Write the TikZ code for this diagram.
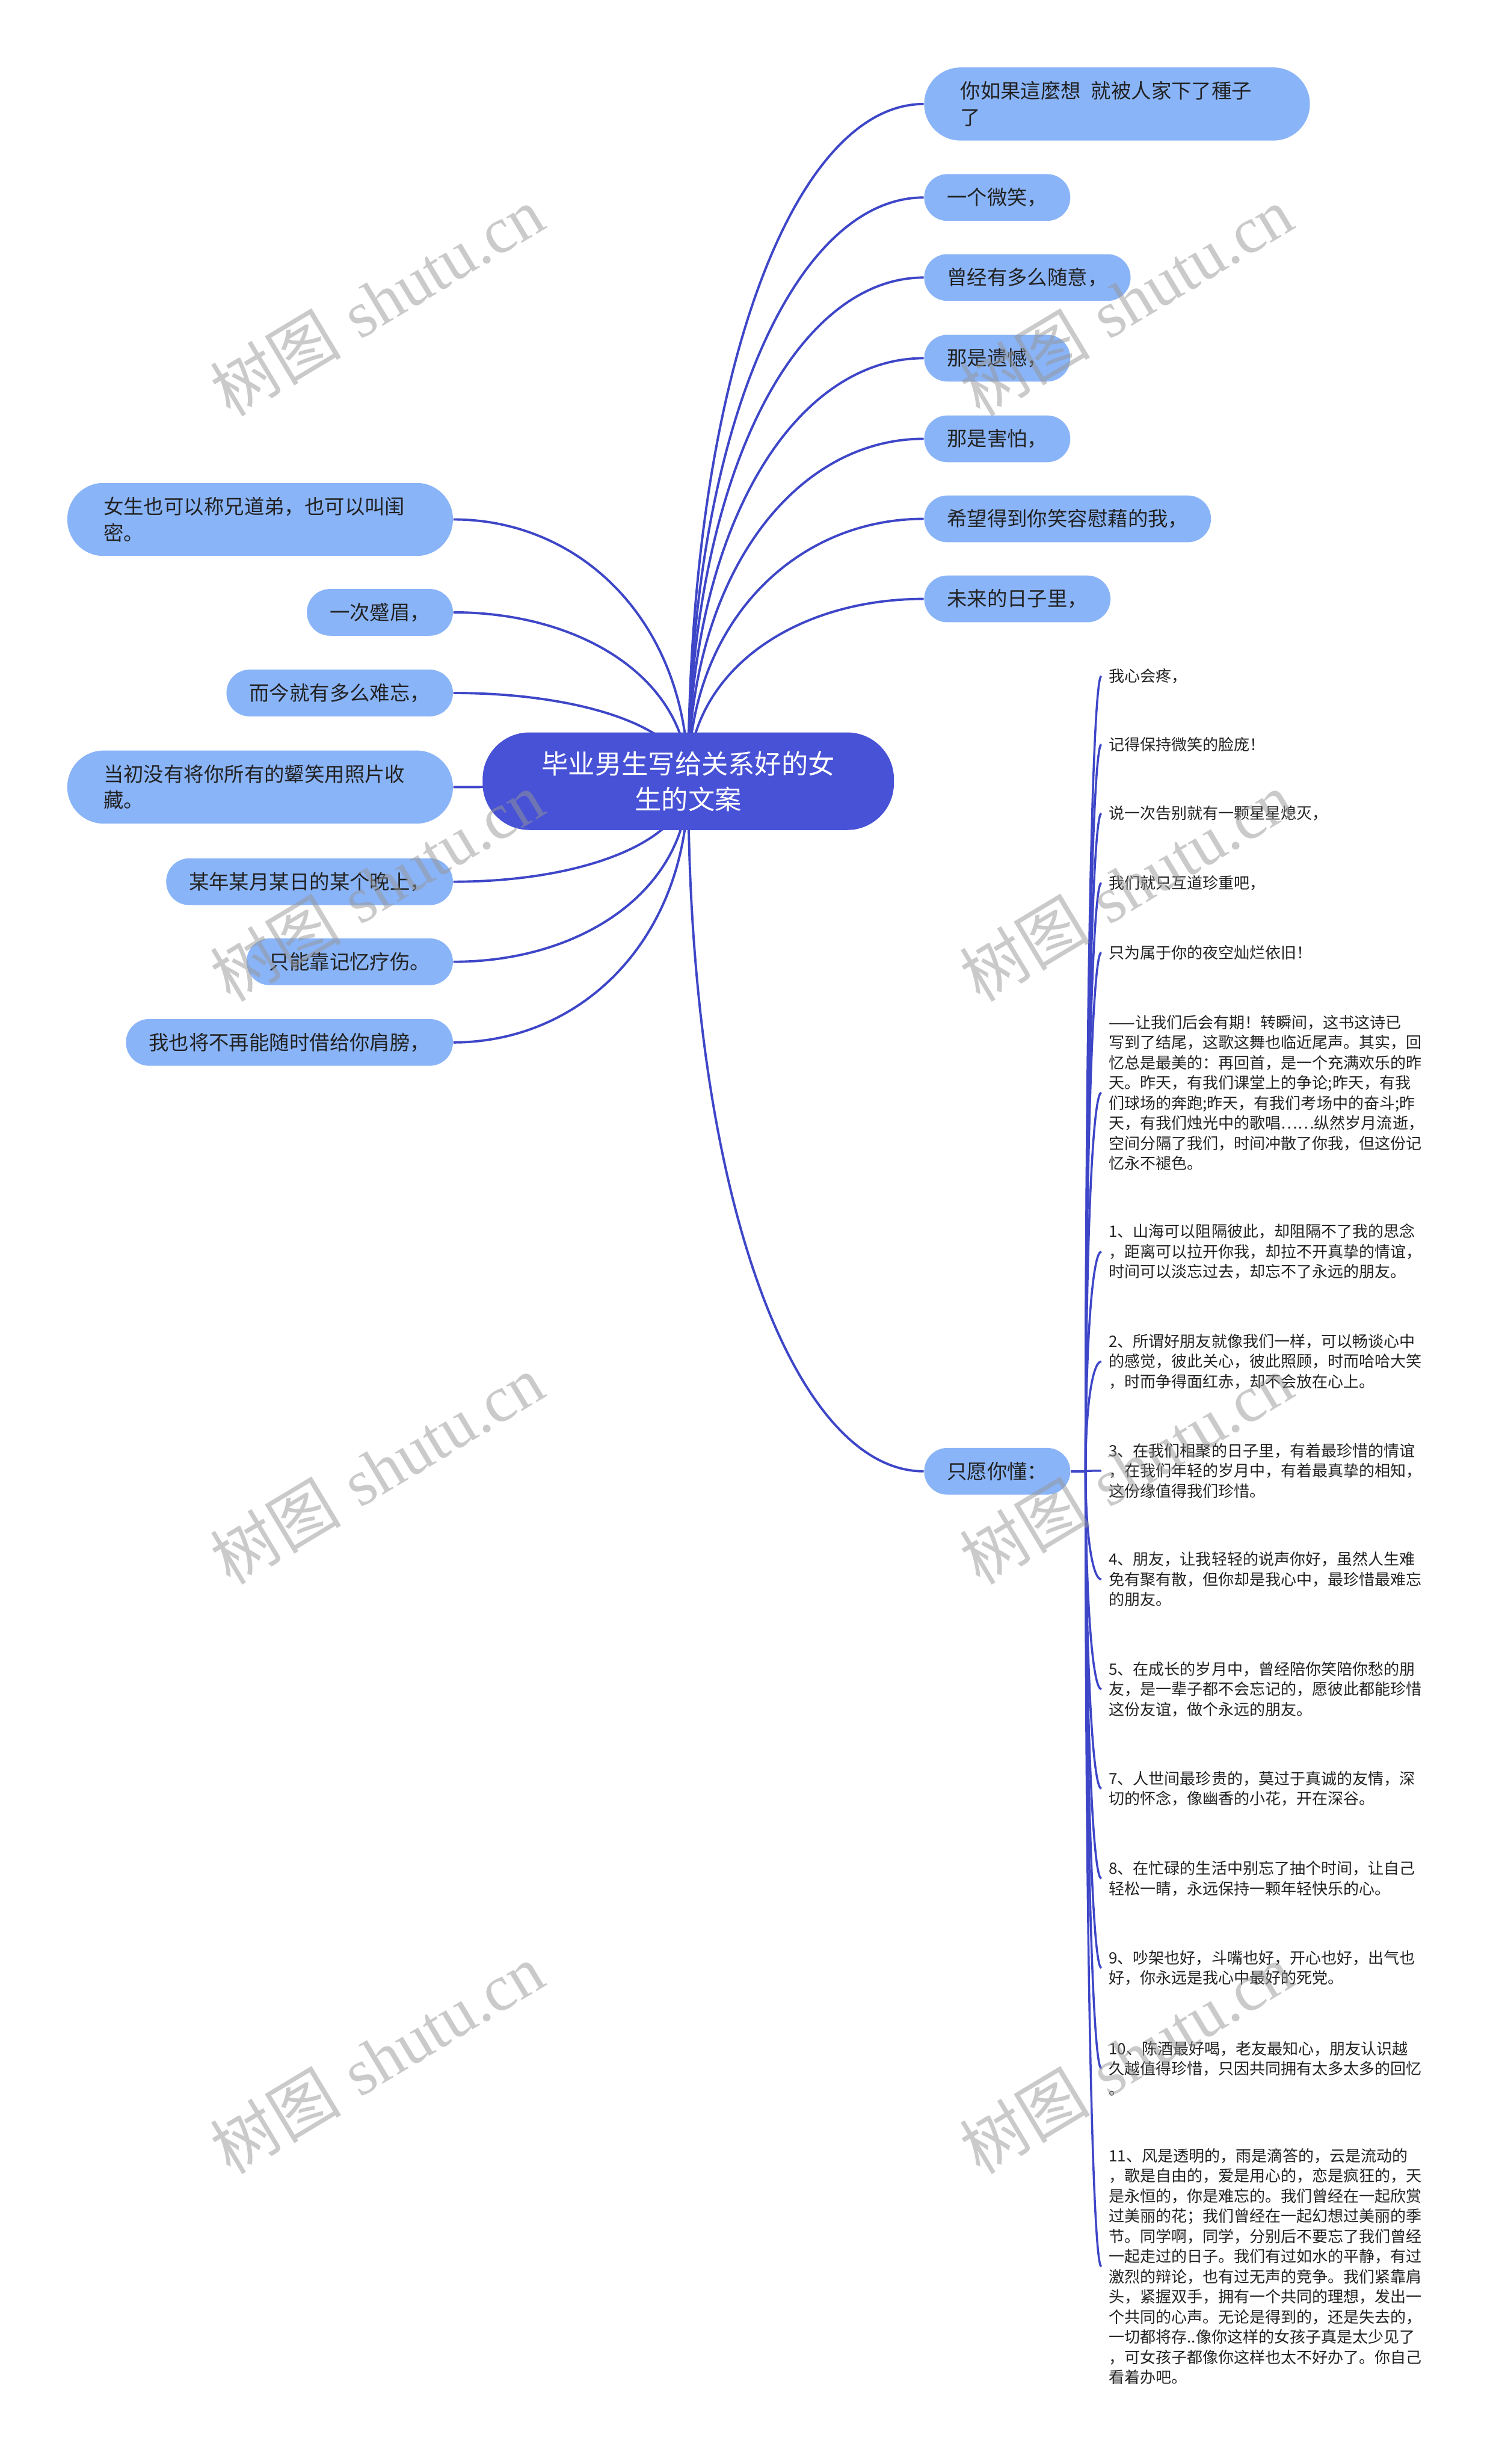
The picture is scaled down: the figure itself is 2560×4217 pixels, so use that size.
\documentclass[tikz,border=0pt]{standalone}
\usepackage{fontspec}
\newfontfamily\cjk{Noto Sans CJK SC}
\newfontfamily\wmlat{Liberation Serif}
\usetikzlibrary{calc,backgrounds}
\definecolor{rootblue}{RGB}{72,82,214}
\definecolor{nodeblue}{RGB}{138,180,248}
\definecolor{linkblue}{RGB}{62,70,200}
\definecolor{txtdark}{RGB}{34,34,34}
\definecolor{wmgray}{RGB}{150,150,150}
\newcommand\mmbranch[3][link]{\coordinate (kk) at (#2|-#3);
  \draw[#1] (#2) .. controls ($(#2)!0.6!(kk)$) and ($(#3)!0.55!(kk)$) .. (#3);}
\tikzset{
 rootnode/.style={fill=rootblue, text=white, font=\cjk\fontsize{11.4pt}{15.25pt}\selectfont, minimum width=176pt, minimum height=41.75pt, rounded corners=20pt, align=center, inner sep=0pt},
 lvone/.style={fill=nodeblue, text=txtdark, font=\cjk\fontsize{8.6pt}{11.25pt}\selectfont, minimum height=20pt, rounded corners=9.9pt, inner xsep=9.75pt, inner ysep=0pt},
 lvtwo/.style={fill=nodeblue, text=txtdark, font=\cjk\fontsize{8.6pt}{11.25pt}\selectfont, minimum height=31.25pt, rounded corners=15.5pt, inner xsep=15.5pt, inner ysep=0pt, text width=134pt, align=left},
 leaf/.style={text=txtdark, font=\cjk\fontsize{6.7pt}{8.625pt}\selectfont, text width=136pt, align=left, inner xsep=3pt, inner ysep=0pt, anchor=west},
 link/.style={draw=linkblue, line width=1pt},
 sublink/.style={draw=linkblue, line width=0.9pt},
 wm/.style={text=wmgray, opacity=0.5, rotate=31, font=\fontsize{28pt}{28pt}\selectfont, inner sep=0pt}
}
\begin{document}
\begin{tikzpicture}[x=0.25pt,y=-0.25pt]
\useasboundingbox (0,0) rectangle (2560,4217);
% root
\node[rootnode] (root) at (1178,1337) {毕业男生写给关系好的女\\生的文案};
% right side
\node[lvtwo,anchor=west] (r1) at (1581,178) {你如果這麼想\hspace{0.5em}就被人家下了種子\\了};
\node[lvone,anchor=west] (r2) at (1581,338) {一个微笑，};
\node[lvone,anchor=west] (r3) at (1581,475) {曾经有多么随意，};
\node[lvone,anchor=west] (r4) at (1581,613) {那是遗憾，};
\node[lvone,anchor=west] (r5) at (1581,751) {那是害怕，};
\node[lvone,anchor=west] (r6) at (1581,888) {希望得到你笑容慰藉的我，};
\node[lvone,anchor=west] (r7) at (1581,1025) {未来的日子里，};
% left side
\node[lvtwo,anchor=east] (l1) at (776,889) {女生也可以称兄道弟，也可以叫闺\\密。};
\node[lvone,anchor=east] (l2) at (776,1048) {一次蹙眉，};
\node[lvone,anchor=east] (l3) at (776,1186) {而今就有多么难忘，};
\node[lvtwo,anchor=east] (l4) at (776,1347) {当初没有将你所有的颦笑用照片收\\藏。};
\node[lvone,anchor=east] (l5) at (776,1509) {某年某月某日的某个晚上，};
\node[lvone,anchor=east] (l6) at (776,1646) {只能靠记忆疗伤。};
\node[lvone,anchor=east] (l7) at (776,1784) {我也将不再能随时借给你肩膀，};
% bottom branch
\node[lvone,anchor=west] (zy) at (1581,2518) {只愿你懂：};
\coordinate (jn) at (1858,2518);
% leaves
\node[leaf] (c1) at (1885,1157) {我心会疼，};
\node[leaf] (c2) at (1885,1274) {记得保持微笑的脸庞！};
\node[leaf] (c3) at (1885,1392) {说一次告别就有一颗星星熄灭，};
\node[leaf] (c4) at (1885,1511) {我们就只互道珍重吧，};
\node[leaf] (c5) at (1885,1630) {只为属于你的夜空灿烂依旧！};
\node[leaf] (c6) at (1885,1870) {——让我们后会有期！转瞬间，这书这诗已\\
写到了结尾，这歌这舞也临近尾声。其实，回\\
忆总是最美的：再回首，是一个充满欢乐的昨\\
天。昨天，有我们课堂上的争论;昨天，有我\\
们球场的奔跑;昨天，有我们考场中的奋斗;昨\\
天，有我们烛光中的歌唱……纵然岁月流逝，\\
空间分隔了我们，时间冲散了你我，但这份记\\
忆永不褪色。};
\node[leaf] (c7) at (1885,2142) {1、山海可以阻隔彼此，却阻隔不了我的思念\\
，距离可以拉开你我，却拉不开真挚的情谊，\\
时间可以淡忘过去，却忘不了永远的朋友。};
\node[leaf] (c8) at (1885,2330) {2、所谓好朋友就像我们一样，可以畅谈心中\\
的感觉，彼此关心，彼此照顾，时而哈哈大笑\\
，时而争得面红赤，却不会放在心上。};
\node[leaf] (c9) at (1885,2517) {3、在我们相聚的日子里，有着最珍惜的情谊\\
，在我们年轻的岁月中，有着最真挚的相知，\\
这份缘值得我们珍惜。};
\node[leaf] (c10) at (1885,2703) {4、朋友，让我轻轻的说声你好，虽然人生难\\
免有聚有散，但你却是我心中，最珍惜最难忘\\
的朋友。};
\node[leaf] (c11) at (1885,2891) {5、在成长的岁月中，曾经陪你笑陪你愁的朋\\
友，是一辈子都不会忘记的，愿彼此都能珍惜\\
这份友谊，做个永远的朋友。};
\node[leaf] (c12) at (1885,3061) {7、人世间最珍贵的，莫过于真诚的友情，深\\
切的怀念，像幽香的小花，开在深谷。};
\node[leaf] (c13) at (1885,3215) {8、在忙碌的生活中别忘了抽个时间，让自己\\
轻松一睛，永远保持一颗年轻快乐的心。};
\node[leaf] (c14) at (1885,3368) {9、吵架也好，斗嘴也好，开心也好，出气也\\
好，你永远是我心中最好的死党。};
\node[leaf] (c15) at (1885,3540) {10、陈酒最好喝，老友最知心，朋友认识越\\
久越值得珍惜，只因共同拥有太多太多的回忆\\
。};
\node[leaf] (c16) at (1885,3879) {11、风是透明的，雨是滴答的，云是流动的\\
，歌是自由的，爱是用心的，恋是疯狂的，天\\
是永恒的，你是难忘的。我们曾经在一起欣赏\\
过美丽的花；我们曾经在一起幻想过美丽的季\\
节。同学啊，同学，分别后不要忘了我们曾经\\
一起走过的日子。我们有过如水的平静，有过\\
激烈的辩论，也有过无声的竞争。我们紧靠肩\\
头，紧握双手，拥有一个共同的理想，发出一\\
个共同的心声。无论是得到的，还是失去的，\\
一切都将存..像你这样的女孩子真是太少见了\\
，可女孩子都像你这样也太不好办了。你自己\\
看着办吧。};
% connectors
\begin{pgfonlayer}{background}
\fill[white] (0,0) rectangle (2560,4217);
\foreach \n in {r1,r2,r3,r4,r5,r6,r7,zy}{\mmbranch{root.center}{\n.west}}
\foreach \n in {l1,l2,l3,l4,l5,l6,l7}{\mmbranch{root.center}{\n.east}}
\draw[sublink] (zy.east) -- (jn);
\foreach \n in {c1,c2,c3,c4,c5,c6,c7,c8,c9,c10,c11,c12,c13,c14,c15,c16}{\mmbranch[sublink]{jn}{\n.west}}
\end{pgfonlayer}
% watermarks
\foreach \wx/\wy [count=\i] in {645/515,1927/515,645/1517,1927/1517,645/2515,1927/2515,645/3523,1927/3523}{
  \node[wm] (wm\i) at (\wx,\wy) {{\cjk 树图} {\wmlat shutu.cn}};
}
\end{tikzpicture}
\end{document}
